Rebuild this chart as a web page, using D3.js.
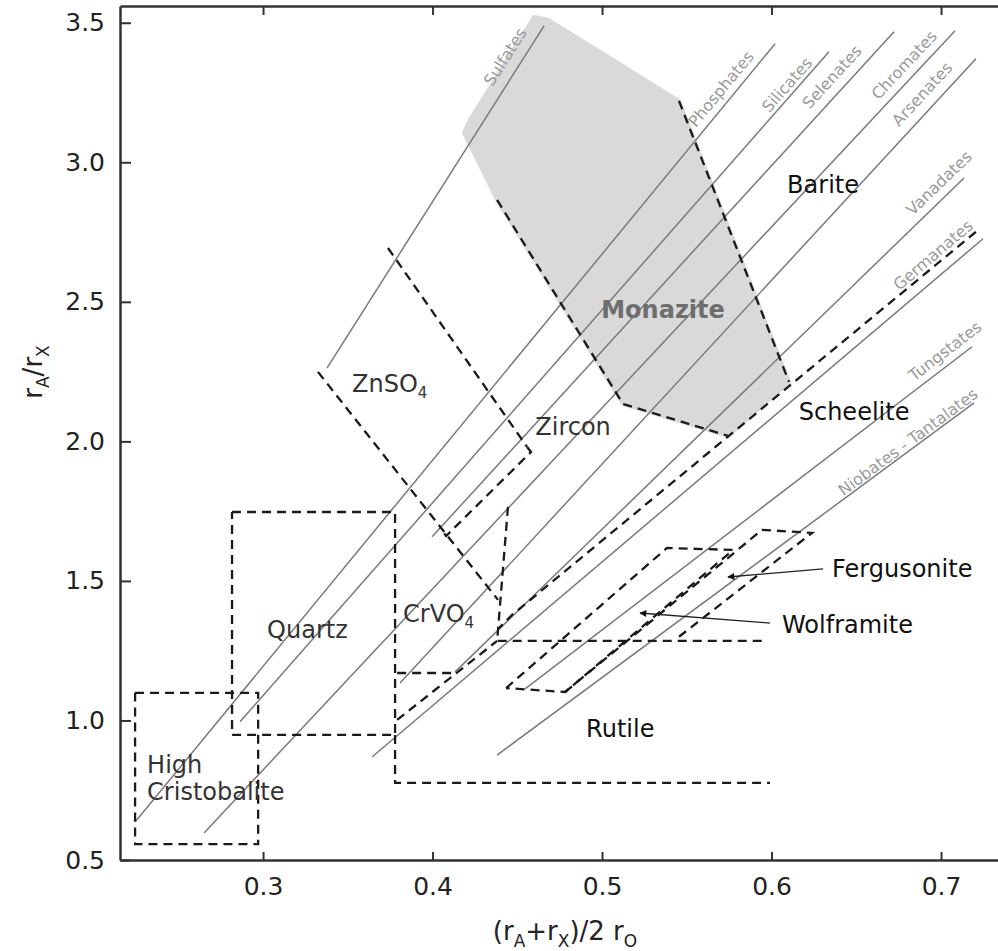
<!DOCTYPE html>
<html lang="en">
<head>
<meta charset="UTF-8" />
<title>Structure field map</title>
<script src="https://cdn.jsdelivr.net/npm/d3@7"></script>
<style>
  body { margin: 0; background: #fff; }
  svg { display: block; }
  text { font-family: "DejaVu Sans", sans-serif; }
</style>
</head>
<body>
<div id="chart"></div>
<script>
// ---- data: x = (rA+rX)/2 rO , y = rA/rX ----
var families = ["Sulfates", "Phosphates", "Silicates", "Selenates", "Chromates", "Arsenates",
  "Vanadates", "Germanates", "Tungstates", "Niobates - Tantalates"];
var famStart = [[0.3378, 2.263], [0.2245, 0.636], [0.2864, 0.995], [0.3997, 1.658], [0.2652, 0.597],
  [0.3808, 1.134], [0.4133, 1.174], [0.3643, 0.869], [0.4546, 1.113], [0.4381, 0.876]];
var famEnd = [[0.4658, 3.489], [0.6021, 3.425], [0.6339, 3.396], [0.6723, 3.468], [0.7083, 3.471],
  [0.7206, 3.371], [0.7136, 2.944], [0.7248, 2.726], [0.7183, 2.339], [0.7195, 2.138]];
var famLabelAt = [[0.4428, 3.378], [0.5702, 3.263], [0.6091, 3.278], [0.6357, 3.306], [0.6782, 3.349],
  [0.6888, 3.245], [0.6988, 2.926], [0.6953, 2.668], [0.7024, 2.324], [0.6805, 1.998]];

// shaded monazite field
var monazite = [[0.4186, 3.106], [0.4221, 3.152], [0.4599, 3.521], [0.4681, 3.511], [0.5454, 3.220],
  [0.6103, 2.213], [0.5743, 2.020], [0.5124, 2.134], [0.4381, 2.865]];

// dashed field boundaries
var hiCristobalite = [[0.2245, 1.099], [0.2971, 1.099], [0.2971, 0.557], [0.2245, 0.557], [0.2245, 1.099]];
var quartz = [[0.2817, 1.747], [0.3779, 1.747], [0.3779, 0.948], [0.2817, 0.948], [0.2817, 1.747]];
var rutile = [[0.3779, 0.948], [0.3779, 0.776], [0.5991, 0.776]];
var crvo4Step = [[0.3791, 1.170], [0.4121, 1.170]];
var crvo4Low = [[0.3791, 1.002], [0.4381, 1.285]];
var crvo4Right = [[0.4445, 1.765], [0.4381, 1.285], [0.5950, 1.285]];
var znso4Low = [[0.3324, 2.249], [0.4386, 1.432]];
var znso4High = [[0.3737, 2.693], [0.4558, 1.980]];
var zirconBox = [[0.4558, 1.980], [0.4581, 1.962], [0.4080, 1.661], [0.4044, 1.690]];
var scheeliteTop = [[0.7206, 2.751], [0.4469, 1.378], [0.4392, 1.331]];
var monaziteLow = [[0.4381, 2.865], [0.5124, 2.134], [0.5743, 2.020]];
var bariteEdge = [[0.5454, 3.220], [0.6103, 2.213]];
var wolframite = [[0.4434, 1.116], [0.5383, 1.618], [0.5773, 1.611], [0.4782, 1.102], [0.4434, 1.116]];
var fergusonite = [[0.4782, 1.102], [0.5944, 1.683], [0.6239, 1.672], [0.5431, 1.289]];
var dashedPaths = [hiCristobalite, quartz, rutile, crvo4Step, crvo4Low, crvo4Right, znso4Low, znso4High,
  zirconBox, scheeliteTop, monaziteLow, bariteEdge, wolframite, fergusonite];

// pointer arrows
var fergArrow = [[0.6304, 1.543], [0.5743, 1.514]];
var wolfArrow = [[0.5991, 1.349], [0.5224, 1.385]];

// field names
var fieldNames = ["Barite", "Monazite", "Scheelite", "Zircon", "ZnSO|4", "CrVO|4", "Quartz",
  "High", "Cristobalite", "Rutile", "Fergusonite", "Wolframite"];
var fieldAt = [[0.6304, 2.891], [0.5360, 2.443], [0.6487, 2.077], [0.4829, 2.023], [0.3525, 2.177],
  [0.3826, 1.353], [0.3024, 1.296], [0.2316, 0.812], [0.2316, 0.715], [0.4906, 0.941],
  [0.6357, 1.514], [0.6062, 1.314]];

var xTicks = [0.3, 0.4, 0.5, 0.6, 0.7];
var yTicks = [0.5, 1.0, 1.5, 2.0, 2.5, 3.0, 3.5];

// ---- drawing ----
var W = 998, H = 951;
var svg = d3.select('#chart').append('svg').attr('width', W).attr('height', H);

var x = d3.scaleLinear().domain([0.2156, 0.7348]).range([120, 1000]);
var y = d3.scaleLinear().domain([0.5, 3.56]).range([860, 6]);

var line = d3.line().x(function (d) { return x(d[0]); }).y(function (d) { return y(d[1]); });

svg.append('defs').append('marker')
  .attr('id', 'head')
  .attr('viewBox', '0 0 10 10')
  .attr('refX', 9).attr('refY', 5)
  .attr('markerWidth', 9).attr('markerHeight', 7)
  .attr('markerUnits', 'userSpaceOnUse')
  .attr('orient', 'auto')
  .append('path').attr('d', 'M0,0 L10,5 L0,10 z').attr('fill', '#111');

svg.append('path')
  .attr('d', line(monazite) + 'Z')
  .attr('fill', '#d9d9d9')
  .attr('stroke', '#d9d9d9')
  .attr('stroke-width', 4)
  .attr('stroke-linejoin', 'round');

// family lines
svg.selectAll('.fam')
  .data(families)
  .enter()
  .append('path')
  .attr('class', 'fam')
  .attr('d', function (d, i) { return line([famStart[i], famEnd[i]]); })
  .attr('fill', 'none')
  .attr('stroke', '#7a7a7a')
  .attr('stroke-width', 1.5);

svg.selectAll('.famlab')
  .data(families)
  .enter()
  .append('text')
  .attr('class', 'famlab')
  .attr('transform', function (d, i) {
    var a = Math.atan2(y(famEnd[i][1]) - y(famStart[i][1]), x(famEnd[i][0]) - x(famStart[i][0])) * 180 / Math.PI;
    return 'translate(' + x(famLabelAt[i][0]) + ',' + y(famLabelAt[i][1]) + ') rotate(' + a + ')';
  })
  .attr('text-anchor', 'middle')
  .attr('dy', '0.35em')
  .attr('font-size', '16px')
  .attr('fill', '#9a9a9a')
  .text(function (d) { return d; });

svg.selectAll('.bound')
  .data(dashedPaths)
  .enter()
  .append('path')
  .attr('class', 'bound')
  .attr('d', line)
  .attr('fill', 'none')
  .attr('stroke', '#1a1a1a')
  .attr('stroke-width', 2.3)
  .attr('stroke-dasharray', '9,6');

svg.selectAll('.arrow')
  .data([fergArrow, wolfArrow])
  .enter()
  .append('path')
  .attr('class', 'arrow')
  .attr('d', line)
  .attr('fill', 'none')
  .attr('stroke', '#222')
  .attr('stroke-width', 1.3)
  .attr('marker-end', 'url(#head)');

// field labels
var anchors = ['middle', 'middle', 'middle', 'middle', 'start', 'start', 'start', 'start', 'start', 'start', 'start', 'start'];
var fieldText = svg.selectAll('.field')
  .data(fieldNames)
  .enter()
  .append('text')
  .attr('class', 'field')
  .attr('x', function (d, i) { return x(fieldAt[i][0]); })
  .attr('y', function (d, i) { return y(fieldAt[i][1]); })
  .attr('text-anchor', function (d, i) { return anchors[i]; })
  .attr('font-size', '24px')
  .attr('font-weight', function (d) { return d === 'Monazite' ? 'bold' : 'normal'; })
  .attr('fill', function (d) {
    if (d === 'Monazite') return '#6e6e6e';
    if (['Barite', 'Scheelite', 'Rutile', 'Fergusonite', 'Wolframite'].indexOf(d) >= 0) return '#111';
    return '#333';
  });
fieldText.each(function (d) {
  var parts = d.split('|');
  var t = d3.select(this);
  t.append('tspan').text(parts[0]);
  if (parts[1]) t.append('tspan').attr('font-size', '15px').attr('dy', 6).text(parts[1]);
});

// axes (ticks inside)
var axisColor = '#333';
var gx = svg.append('g').attr('transform', 'translate(0,860)')
  .call(d3.axisBottom(x).tickValues(xTicks).tickSize(-8).tickSizeOuter(0).tickPadding(14).tickFormat(d3.format('.1f')));
var gt = svg.append('g').attr('transform', 'translate(0,6)')
  .call(d3.axisTop(x).tickValues(xTicks).tickSize(-9).tickSizeOuter(0).tickFormat(''));
var gy = svg.append('g').attr('transform', 'translate(120,0)')
  .call(d3.axisLeft(y).tickValues(yTicks).tickSize(-11).tickSizeOuter(0).tickPadding(15).tickFormat(d3.format('.1f')));
[gx, gt, gy].forEach(function (g) {
  g.select('.domain').attr('stroke', axisColor).attr('stroke-width', 2.5);
  g.selectAll('.tick line').attr('stroke', axisColor).attr('stroke-width', 2);
  g.selectAll('.tick text').attr('font-family', '"DejaVu Sans", sans-serif').attr('font-size', '25px').attr('fill', '#222');
});
gx.selectAll('.tick text').attr('dy', '0.85em');

// axis titles
var xt = svg.append('text').attr('x', 565).attr('y', 940).attr('text-anchor', 'middle')
  .attr('font-size', '26px').attr('fill', '#222');
xt.append('tspan').text('(r');
xt.append('tspan').attr('font-size', '17px').attr('dy', 7).text('A');
xt.append('tspan').attr('dy', -7).text('+r');
xt.append('tspan').attr('font-size', '17px').attr('dy', 7).text('X');
xt.append('tspan').attr('dy', -7).text(')/2 r');
xt.append('tspan').attr('font-size', '17px').attr('dy', 7).text('O');

var yt = svg.append('text').attr('transform', 'translate(42,372) rotate(-90)').attr('text-anchor', 'middle')
  .attr('font-size', '26px').attr('fill', '#222');
yt.append('tspan').text('r');
yt.append('tspan').attr('font-size', '17px').attr('dy', 7).text('A');
yt.append('tspan').attr('dy', -7).text('/r');
yt.append('tspan').attr('font-size', '17px').attr('dy', 7).text('X');
</script>
</body>
</html>
